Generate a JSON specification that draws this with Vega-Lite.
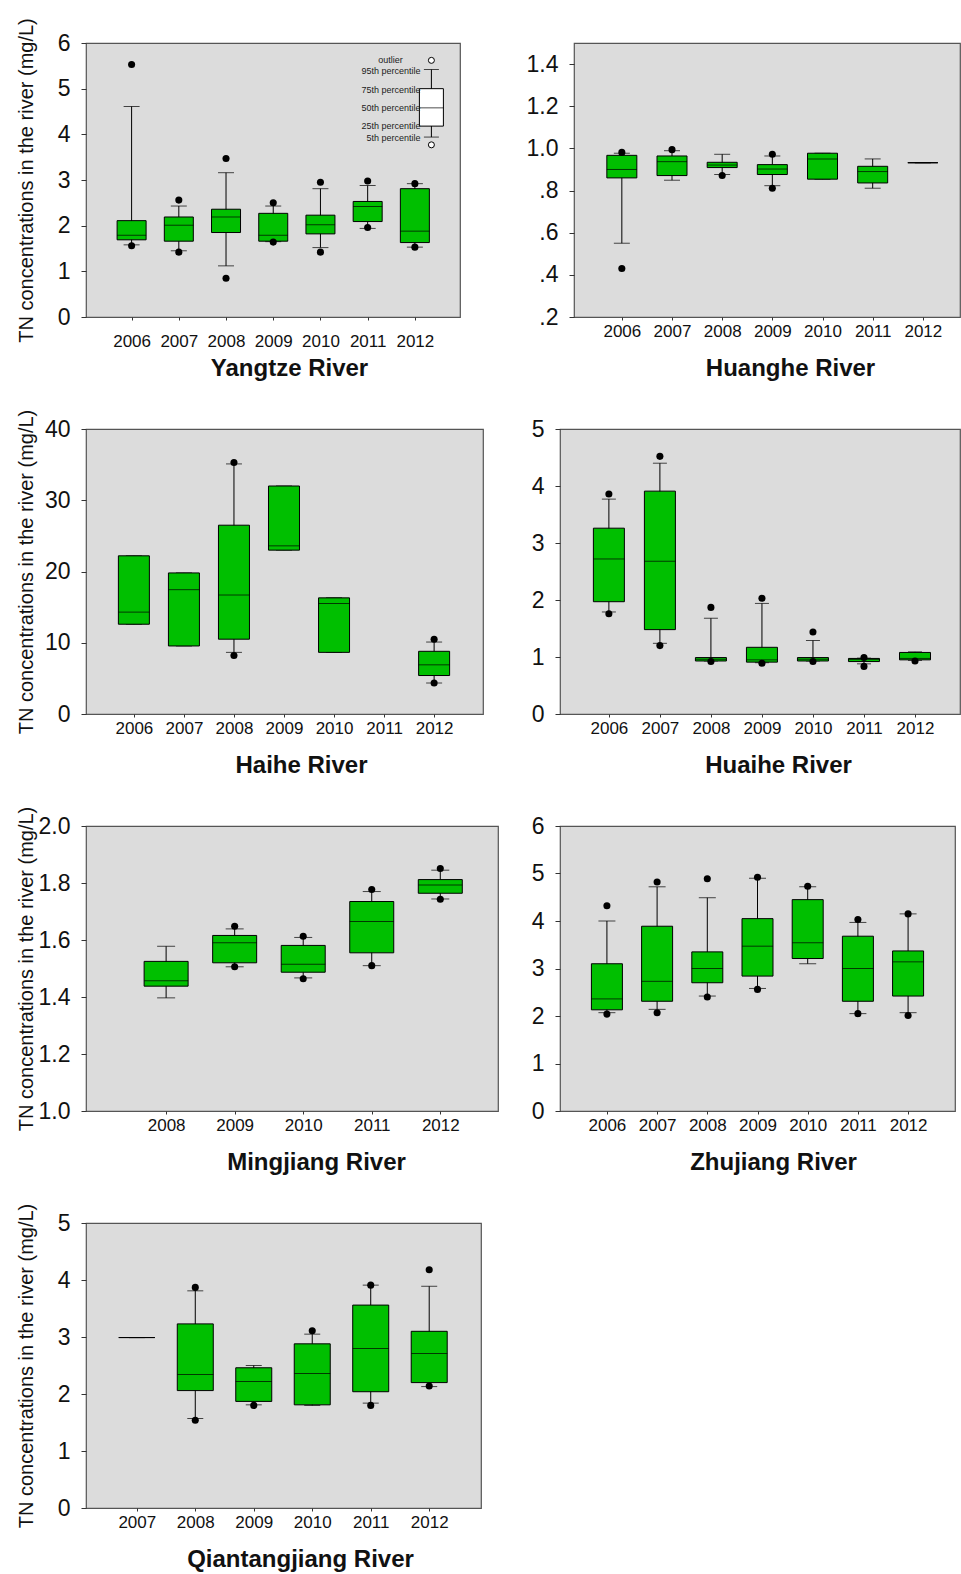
{
  "$schema": "https://vega.github.io/schema/vega-lite/v6.json",
  "background": "white",
  "padding": {"left": 15, "top": 17, "right": 0, "bottom": 0},
  "datasets": {
    "boxes": [
      {"river": "Yangtze", "year": 2006, "p5": 1.58, "q1": 1.69, "median": 1.79, "q3": 2.11, "p95": 4.61},
      {"river": "Yangtze", "year": 2007, "p5": 1.45, "q1": 1.66, "median": 2.01, "q3": 2.19, "p95": 2.43},
      {"river": "Yangtze", "year": 2008, "p5": 1.12, "q1": 1.85, "median": 2.19, "q3": 2.36, "p95": 3.16},
      {"river": "Yangtze", "year": 2009, "p5": 1.65, "q1": 1.66, "median": 1.79, "q3": 2.27, "p95": 2.43},
      {"river": "Yangtze", "year": 2010, "p5": 1.52, "q1": 1.82, "median": 2.02, "q3": 2.23, "p95": 2.81},
      {"river": "Yangtze", "year": 2011, "p5": 1.94, "q1": 2.09, "median": 2.42, "q3": 2.53, "p95": 2.88},
      {"river": "Yangtze", "year": 2012, "p5": 1.53, "q1": 1.63, "median": 1.88, "q3": 2.81, "p95": 2.92},
      {"river": "Huanghe", "year": 2006, "p5": 0.55, "q1": 0.86, "median": 0.90, "q3": 0.967, "p95": 0.977},
      {"river": "Huanghe", "year": 2007, "p5": 0.849, "q1": 0.871, "median": 0.937, "q3": 0.964, "p95": 0.989},
      {"river": "Huanghe", "year": 2008, "p5": 0.876, "q1": 0.909, "median": 0.921, "q3": 0.934, "p95": 0.972},
      {"river": "Huanghe", "year": 2009, "p5": 0.823, "q1": 0.876, "median": 0.902, "q3": 0.923, "p95": 0.964},
      {"river": "Huanghe", "year": 2010, "p5": 0.854, "q1": 0.854, "median": 0.950, "q3": 0.977, "p95": 0.977},
      {"river": "Huanghe", "year": 2011, "p5": 0.811, "q1": 0.836, "median": 0.890, "q3": 0.915, "p95": 0.950},
      {"river": "Huanghe", "year": 2012, "p5": 0.932, "q1": 0.932, "median": 0.932, "q3": 0.932, "p95": 0.932},
      {"river": "Haihe", "year": 2006, "p5": 12.6, "q1": 12.6, "median": 14.3, "q3": 22.2, "p95": 22.2},
      {"river": "Haihe", "year": 2007, "p5": 9.55, "q1": 9.55, "median": 17.45, "q3": 19.8, "p95": 19.8},
      {"river": "Haihe", "year": 2008, "p5": 8.65, "q1": 10.5, "median": 16.7, "q3": 26.5, "p95": 35.1},
      {"river": "Haihe", "year": 2009, "p5": 23.0, "q1": 23.0, "median": 23.6, "q3": 32.0, "p95": 32.0},
      {"river": "Haihe", "year": 2010, "p5": 8.65, "q1": 8.65, "median": 15.5, "q3": 16.3, "p95": 16.3},
      {"river": "Haihe", "year": 2012, "p5": 4.35, "q1": 5.4, "median": 6.9, "q3": 8.8, "p95": 10.1},
      {"river": "Huaihe", "year": 2006, "p5": 1.79, "q1": 1.97, "median": 2.72, "q3": 3.26, "p95": 3.77},
      {"river": "Huaihe", "year": 2007, "p5": 1.24, "q1": 1.48, "median": 2.68, "q3": 3.91, "p95": 4.40},
      {"river": "Huaihe", "year": 2008, "p5": 0.93, "q1": 0.93, "median": 0.96, "q3": 0.99, "p95": 1.68},
      {"river": "Huaihe", "year": 2009, "p5": 0.90, "q1": 0.91, "median": 0.95, "q3": 1.17, "p95": 1.94},
      {"river": "Huaihe", "year": 2010, "p5": 0.93, "q1": 0.93, "median": 0.96, "q3": 0.99, "p95": 1.29},
      {"river": "Huaihe", "year": 2011, "p5": 0.88, "q1": 0.92, "median": 0.958, "q3": 0.975, "p95": 0.98},
      {"river": "Huaihe", "year": 2012, "p5": 0.94, "q1": 0.95, "median": 0.975, "q3": 1.08, "p95": 1.09},
      {"river": "Mingjiang", "year": 2008, "p5": 1.397, "q1": 1.438, "median": 1.457, "q3": 1.525, "p95": 1.578},
      {"river": "Mingjiang", "year": 2009, "p5": 1.506, "q1": 1.520, "median": 1.590, "q3": 1.616, "p95": 1.639},
      {"river": "Mingjiang", "year": 2010, "p5": 1.467, "q1": 1.487, "median": 1.515, "q3": 1.581, "p95": 1.609},
      {"river": "Mingjiang", "year": 2011, "p5": 1.510, "q1": 1.555, "median": 1.665, "q3": 1.735, "p95": 1.770},
      {"river": "Mingjiang", "year": 2012, "p5": 1.744, "q1": 1.764, "median": 1.793, "q3": 1.812, "p95": 1.845},
      {"river": "Zhujiang", "year": 2006, "p5": 2.07, "q1": 2.13, "median": 2.36, "q3": 3.10, "p95": 4.00},
      {"river": "Zhujiang", "year": 2007, "p5": 2.14, "q1": 2.31, "median": 2.73, "q3": 3.89, "p95": 4.72},
      {"river": "Zhujiang", "year": 2008, "p5": 2.42, "q1": 2.70, "median": 3.00, "q3": 3.35, "p95": 4.49},
      {"river": "Zhujiang", "year": 2009, "p5": 2.58, "q1": 2.84, "median": 3.47, "q3": 4.05, "p95": 4.90},
      {"river": "Zhujiang", "year": 2010, "p5": 3.10, "q1": 3.21, "median": 3.54, "q3": 4.45, "p95": 4.72},
      {"river": "Zhujiang", "year": 2011, "p5": 2.05, "q1": 2.31, "median": 3.00, "q3": 3.68, "p95": 3.97},
      {"river": "Zhujiang", "year": 2012, "p5": 2.07, "q1": 2.42, "median": 3.14, "q3": 3.37, "p95": 4.15},
      {"river": "Qiantangjiang", "year": 2007, "p5": 2.99, "q1": 2.99, "median": 2.99, "q3": 2.99, "p95": 2.99},
      {"river": "Qiantangjiang", "year": 2008, "p5": 1.57, "q1": 2.06, "median": 2.34, "q3": 3.23, "p95": 3.81},
      {"river": "Qiantangjiang", "year": 2009, "p5": 1.81, "q1": 1.87, "median": 2.22, "q3": 2.46, "p95": 2.50},
      {"river": "Qiantangjiang", "year": 2010, "p5": 1.80, "q1": 1.81, "median": 2.36, "q3": 2.88, "p95": 3.05},
      {"river": "Qiantangjiang", "year": 2011, "p5": 1.84, "q1": 2.04, "median": 2.80, "q3": 3.56, "p95": 3.91},
      {"river": "Qiantangjiang", "year": 2012, "p5": 2.13, "q1": 2.20, "median": 2.71, "q3": 3.10, "p95": 3.89}
    ],
    "outliers": [
      {"river": "Yangtze", "year": 2006, "value": 5.53}, {"river": "Yangtze", "year": 2006, "value": 1.56},
      {"river": "Yangtze", "year": 2007, "value": 2.56}, {"river": "Yangtze", "year": 2007, "value": 1.42},
      {"river": "Yangtze", "year": 2008, "value": 3.47}, {"river": "Yangtze", "year": 2008, "value": 0.85},
      {"river": "Yangtze", "year": 2009, "value": 2.50}, {"river": "Yangtze", "year": 2009, "value": 1.64},
      {"river": "Yangtze", "year": 2010, "value": 2.95}, {"river": "Yangtze", "year": 2010, "value": 1.42},
      {"river": "Yangtze", "year": 2011, "value": 2.98}, {"river": "Yangtze", "year": 2011, "value": 1.96},
      {"river": "Yangtze", "year": 2012, "value": 2.92}, {"river": "Yangtze", "year": 2012, "value": 1.53},
      {"river": "Huanghe", "year": 2006, "value": 0.981}, {"river": "Huanghe", "year": 2006, "value": 0.43},
      {"river": "Huanghe", "year": 2007, "value": 0.994},
      {"river": "Huanghe", "year": 2008, "value": 0.871},
      {"river": "Huanghe", "year": 2009, "value": 0.972}, {"river": "Huanghe", "year": 2009, "value": 0.811},
      {"river": "Haihe", "year": 2008, "value": 35.3}, {"river": "Haihe", "year": 2008, "value": 8.2},
      {"river": "Haihe", "year": 2012, "value": 10.5}, {"river": "Haihe", "year": 2012, "value": 4.35},
      {"river": "Huaihe", "year": 2006, "value": 3.86}, {"river": "Huaihe", "year": 2006, "value": 1.76},
      {"river": "Huaihe", "year": 2007, "value": 4.52}, {"river": "Huaihe", "year": 2007, "value": 1.20},
      {"river": "Huaihe", "year": 2008, "value": 1.87}, {"river": "Huaihe", "year": 2008, "value": 0.92},
      {"river": "Huaihe", "year": 2009, "value": 2.03}, {"river": "Huaihe", "year": 2009, "value": 0.89},
      {"river": "Huaihe", "year": 2010, "value": 1.44}, {"river": "Huaihe", "year": 2010, "value": 0.92},
      {"river": "Huaihe", "year": 2011, "value": 0.99}, {"river": "Huaihe", "year": 2011, "value": 0.835},
      {"river": "Huaihe", "year": 2012, "value": 0.93},
      {"river": "Mingjiang", "year": 2009, "value": 1.648}, {"river": "Mingjiang", "year": 2009, "value": 1.506},
      {"river": "Mingjiang", "year": 2010, "value": 1.613}, {"river": "Mingjiang", "year": 2010, "value": 1.464},
      {"river": "Mingjiang", "year": 2011, "value": 1.777}, {"river": "Mingjiang", "year": 2011, "value": 1.510},
      {"river": "Mingjiang", "year": 2012, "value": 1.851}, {"river": "Mingjiang", "year": 2012, "value": 1.743},
      {"river": "Zhujiang", "year": 2006, "value": 4.32}, {"river": "Zhujiang", "year": 2006, "value": 2.04},
      {"river": "Zhujiang", "year": 2007, "value": 4.82}, {"river": "Zhujiang", "year": 2007, "value": 2.07},
      {"river": "Zhujiang", "year": 2008, "value": 4.89}, {"river": "Zhujiang", "year": 2008, "value": 2.40},
      {"river": "Zhujiang", "year": 2009, "value": 4.92}, {"river": "Zhujiang", "year": 2009, "value": 2.56},
      {"river": "Zhujiang", "year": 2010, "value": 4.73},
      {"river": "Zhujiang", "year": 2011, "value": 4.03}, {"river": "Zhujiang", "year": 2011, "value": 2.05},
      {"river": "Zhujiang", "year": 2012, "value": 4.15}, {"river": "Zhujiang", "year": 2012, "value": 2.01},
      {"river": "Qiantangjiang", "year": 2008, "value": 3.87}, {"river": "Qiantangjiang", "year": 2008, "value": 1.54},
      {"river": "Qiantangjiang", "year": 2009, "value": 1.80},
      {"river": "Qiantangjiang", "year": 2010, "value": 3.11},
      {"river": "Qiantangjiang", "year": 2011, "value": 3.91}, {"river": "Qiantangjiang", "year": 2011, "value": 1.80},
      {"river": "Qiantangjiang", "year": 2012, "value": 4.18}, {"river": "Qiantangjiang", "year": 2012, "value": 2.14}
    ],
    "legendBox": [{"p5": 3.94, "q1": 4.18, "median": 4.58, "q3": 5.0, "p95": 5.42}],
    "legendOutliers": [{"value": 5.62}, {"value": 3.77}],
    "legendLabels": [
      {"label": "95th percentile", "value": 5.39},
      {"label": "75th percentile", "value": 4.98},
      {"label": "50th percentile", "value": 4.58},
      {"label": "25th percentile", "value": 4.18},
      {"label": "5th percentile", "value": 3.93}
    ],
    "legendOutlierLabel": [{"label": "outlier", "value": 5.62}]
  },
  "config": {
    "font": "Liberation Sans",
    "view": {"fill": "#dcdcdc", "stroke": "#555555", "strokeWidth": 1.2},
    "axis": {"grid": false, "domain": false, "tickColor": "#333333", "labelColor": "#111111", "titleColor": "#111111", "labelFont": "Liberation Sans", "titleFont": "Liberation Sans", "labelOverlap": false, "labelFlush": false},
    "axisX": {"tickSize": 3, "labelFontSize": 17, "labelPadding": 3, "titleFontSize": 24, "titleFontWeight": "bold", "titlePadding": 17},
    "axisY": {"tickSize": 5, "labelFontSize": 23, "labelPadding": 11, "titleFontSize": 20, "titleFontWeight": "normal"}
  },
  "columns": 1,
  "spacing": 27,
  "concat": [
    {
      "bounds": "flush",
      "spacing": 114,
      "hconcat": [
        {
          "width": 374, "height": 274,
          "layer": [
            {
              "encoding": {"x": {"field": "year", "type": "quantitative", "title": "Yangtze River", "scale": {"domain": [2005.14, 2012.85], "nice": false, "zero": false}, "axis": {"values": [2006, 2007, 2008, 2009, 2010, 2011, 2012], "format": "d", "labelPadding": 13, "titlePadding": 7, "titleX": 203}}},
              "layer": [
                {"data": {"name": "boxes"}, "transform": [{"filter": "datum.river === 'Yangtze'"}], "mark": {"type": "rule", "color": "#000000", "strokeWidth": 1},
                 "encoding": {"y": {"field": "p5", "type": "quantitative", "title": "TN concentrations in the river (mg/L)", "scale": {"domain": [0, 6], "nice": false, "zero": false}, "axis": {"values": [0, 1, 2, 3, 4, 5, 6], "format": "d", "minExtent": 29, "maxExtent": 29, "titlePadding": 21}}, "y2": {"field": "p95"}}},
                {"data": {"name": "boxes"}, "transform": [{"filter": "datum.river === 'Yangtze'"}], "mark": {"type": "tick", "orient": "horizontal", "size": 16, "thickness": 1, "color": "#000000"},
                 "encoding": {"y": {"field": "p5", "type": "quantitative", "title": "TN concentrations in the river (mg/L)"}}},
                {"data": {"name": "boxes"}, "transform": [{"filter": "datum.river === 'Yangtze'"}], "mark": {"type": "tick", "orient": "horizontal", "size": 16, "thickness": 1, "color": "#000000"},
                 "encoding": {"y": {"field": "p95", "type": "quantitative", "title": "TN concentrations in the river (mg/L)"}}},
                {"data": {"name": "boxes"}, "transform": [{"filter": "datum.river === 'Yangtze'"}], "mark": {"type": "bar", "size": 29, "fill": "#00bf00", "stroke": "#000000", "strokeWidth": 1},
                 "encoding": {"y": {"field": "q1", "type": "quantitative", "title": "TN concentrations in the river (mg/L)"}, "y2": {"field": "q3"}}},
                {"data": {"name": "boxes"}, "transform": [{"filter": "datum.river === 'Yangtze'"}], "mark": {"type": "tick", "orient": "horizontal", "size": 29, "thickness": 1, "color": "#000000"},
                 "encoding": {"y": {"field": "median", "type": "quantitative", "title": "TN concentrations in the river (mg/L)"}}},
                {"data": {"name": "outliers"}, "transform": [{"filter": "datum.river === 'Yangtze'"}], "mark": {"type": "point", "shape": "circle", "filled": true, "size": 50, "color": "#000000", "opacity": 1},
                 "encoding": {"y": {"field": "value", "type": "quantitative", "title": "TN concentrations in the river (mg/L)"}}}
              ]
            },
            {"data": {"name": "legendBox"}, "mark": {"type": "rule", "color": "#000000", "strokeWidth": 1},
             "encoding": {"x": {"datum": 2012.35, "type": "quantitative", "title": "Yangtze River"}, "y": {"field": "p5", "type": "quantitative", "title": "TN concentrations in the river (mg/L)"}, "y2": {"field": "p95"}}},
            {"data": {"name": "legendBox"}, "mark": {"type": "tick", "orient": "horizontal", "size": 15, "thickness": 1, "color": "#000000"},
             "encoding": {"x": {"datum": 2012.35, "type": "quantitative", "title": "Yangtze River"}, "y": {"field": "p5", "type": "quantitative", "title": "TN concentrations in the river (mg/L)"}}},
            {"data": {"name": "legendBox"}, "mark": {"type": "tick", "orient": "horizontal", "size": 15, "thickness": 1, "color": "#000000"},
             "encoding": {"x": {"datum": 2012.35, "type": "quantitative", "title": "Yangtze River"}, "y": {"field": "p95", "type": "quantitative", "title": "TN concentrations in the river (mg/L)"}}},
            {"data": {"name": "legendBox"}, "mark": {"type": "bar", "size": 24, "fill": "#ffffff", "stroke": "#000000", "strokeWidth": 1},
             "encoding": {"x": {"datum": 2012.35, "type": "quantitative", "title": "Yangtze River"}, "y": {"field": "q1", "type": "quantitative", "title": "TN concentrations in the river (mg/L)"}, "y2": {"field": "q3"}}},
            {"data": {"name": "legendBox"}, "mark": {"type": "tick", "orient": "horizontal", "size": 24, "thickness": 1, "color": "#000000"},
             "encoding": {"x": {"datum": 2012.35, "type": "quantitative", "title": "Yangtze River"}, "y": {"field": "median", "type": "quantitative", "title": "TN concentrations in the river (mg/L)"}}},
            {"data": {"name": "legendOutliers"}, "mark": {"type": "point", "shape": "circle", "filled": true, "size": 36, "fill": "#ffffff", "stroke": "#000000", "strokeWidth": 1, "opacity": 1},
             "encoding": {"x": {"datum": 2012.35, "type": "quantitative", "title": "Yangtze River"}, "y": {"field": "value", "type": "quantitative", "title": "TN concentrations in the river (mg/L)"}}},
            {"data": {"name": "legendLabels"}, "mark": {"type": "text", "align": "right", "baseline": "middle", "fontSize": 9, "color": "#222222"},
             "encoding": {"x": {"datum": 2012.12, "type": "quantitative", "title": "Yangtze River"}, "y": {"field": "value", "type": "quantitative", "title": "TN concentrations in the river (mg/L)"}, "text": {"field": "label"}}},
            {"data": {"name": "legendOutlierLabel"}, "mark": {"type": "text", "align": "center", "baseline": "middle", "fontSize": 9, "color": "#222222"},
             "encoding": {"x": {"datum": 2011.485, "type": "quantitative", "title": "Yangtze River"}, "y": {"field": "value", "type": "quantitative", "title": "TN concentrations in the river (mg/L)"}, "text": {"field": "label"}}}
          ]
        },
        {
          "width": 386, "height": 274,
          "encoding": {"x": {"field": "year", "type": "quantitative", "title": "Huanghe River", "scale": {"domain": [2005.146, 2012.641], "nice": false, "zero": false}, "axis": {"values": [2006, 2007, 2008, 2009, 2010, 2011, 2012], "format": "d", "titleX": 216}}},
          "layer": [
            {"data": {"name": "boxes"}, "transform": [{"filter": "datum.river === 'Huanghe'"}], "mark": {"type": "rule", "color": "#000000", "strokeWidth": 1},
             "encoding": {"y": {"field": "p5", "type": "quantitative", "title": null, "scale": {"domain": [0.2, 1.5], "nice": false, "zero": false}, "axis": {"values": [0.2, 0.4, 0.6, 0.8, 1.0, 1.2, 1.4], "labelExpr": "datum.value < 0.99 ? replace(format(datum.value, '.1f'), '0.', '.') : format(datum.value, '.1f')"}}, "y2": {"field": "p95"}}},
            {"data": {"name": "boxes"}, "transform": [{"filter": "datum.river === 'Huanghe'"}], "mark": {"type": "tick", "orient": "horizontal", "size": 16, "thickness": 1, "color": "#000000"},
             "encoding": {"y": {"field": "p5", "type": "quantitative", "title": null}}},
            {"data": {"name": "boxes"}, "transform": [{"filter": "datum.river === 'Huanghe'"}], "mark": {"type": "tick", "orient": "horizontal", "size": 16, "thickness": 1, "color": "#000000"},
             "encoding": {"y": {"field": "p95", "type": "quantitative", "title": null}}},
            {"data": {"name": "boxes"}, "transform": [{"filter": "datum.river === 'Huanghe'"}], "mark": {"type": "bar", "size": 30, "fill": "#00bf00", "stroke": "#000000", "strokeWidth": 1},
             "encoding": {"y": {"field": "q1", "type": "quantitative", "title": null}, "y2": {"field": "q3"}}},
            {"data": {"name": "boxes"}, "transform": [{"filter": "datum.river === 'Huanghe'"}], "mark": {"type": "tick", "orient": "horizontal", "size": 30, "thickness": 1, "color": "#000000"},
             "encoding": {"y": {"field": "median", "type": "quantitative", "title": null}}},
            {"data": {"name": "outliers"}, "transform": [{"filter": "datum.river === 'Huanghe'"}], "mark": {"type": "point", "shape": "circle", "filled": true, "size": 50, "color": "#000000", "opacity": 1},
             "encoding": {"y": {"field": "value", "type": "quantitative", "title": null}}}
          ]
        }
      ]
    },
    {
      "bounds": "flush",
      "spacing": 77,
      "hconcat": [
        {
          "width": 397, "height": 285,
          "encoding": {"x": {"field": "year", "type": "quantitative", "title": "Haihe River", "scale": {"domain": [2005.143, 2012.877], "nice": false, "zero": false}, "axis": {"values": [2006, 2007, 2008, 2009, 2010, 2011, 2012], "format": "d", "titleX": 215}}},
          "layer": [
            {"data": {"name": "boxes"}, "transform": [{"filter": "datum.river === 'Haihe'"}], "mark": {"type": "rule", "color": "#000000", "strokeWidth": 1},
             "encoding": {"y": {"field": "p5", "type": "quantitative", "title": "TN concentrations in the river (mg/L)", "scale": {"domain": [0, 40], "nice": false, "zero": false}, "axis": {"values": [0, 5, 10, 15, 20, 25, 30, 35, 40], "format": "d", "minExtent": 42, "maxExtent": 42, "titlePadding": 8}}, "y2": {"field": "p95"}}},
            {"data": {"name": "boxes"}, "transform": [{"filter": "datum.river === 'Haihe'"}], "mark": {"type": "tick", "orient": "horizontal", "size": 16, "thickness": 1, "color": "#000000"},
             "encoding": {"y": {"field": "p5", "type": "quantitative", "title": "TN concentrations in the river (mg/L)"}}},
            {"data": {"name": "boxes"}, "transform": [{"filter": "datum.river === 'Haihe'"}], "mark": {"type": "tick", "orient": "horizontal", "size": 16, "thickness": 1, "color": "#000000"},
             "encoding": {"y": {"field": "p95", "type": "quantitative", "title": "TN concentrations in the river (mg/L)"}}},
            {"data": {"name": "boxes"}, "transform": [{"filter": "datum.river === 'Haihe'"}], "mark": {"type": "bar", "size": 31, "fill": "#00bf00", "stroke": "#000000", "strokeWidth": 1},
             "encoding": {"y": {"field": "q1", "type": "quantitative", "title": "TN concentrations in the river (mg/L)"}, "y2": {"field": "q3"}}},
            {"data": {"name": "boxes"}, "transform": [{"filter": "datum.river === 'Haihe'"}], "mark": {"type": "tick", "orient": "horizontal", "size": 31, "thickness": 1, "color": "#000000"},
             "encoding": {"y": {"field": "median", "type": "quantitative", "title": "TN concentrations in the river (mg/L)"}}},
            {"data": {"name": "outliers"}, "transform": [{"filter": "datum.river === 'Haihe'"}], "mark": {"type": "point", "shape": "circle", "filled": true, "size": 50, "color": "#000000", "opacity": 1},
             "encoding": {"y": {"field": "value", "type": "quantitative", "title": "TN concentrations in the river (mg/L)"}}}
          ]
        },
        {
          "width": 400, "height": 285,
          "encoding": {"x": {"field": "year", "type": "quantitative", "title": "Huaihe River", "scale": {"domain": [2005.14, 2012.784], "nice": false, "zero": false}, "axis": {"values": [2006, 2007, 2008, 2009, 2010, 2011, 2012], "format": "d", "titleX": 218}}},
          "layer": [
            {"data": {"name": "boxes"}, "transform": [{"filter": "datum.river === 'Huaihe'"}], "mark": {"type": "rule", "color": "#000000", "strokeWidth": 1},
             "encoding": {"y": {"field": "p5", "type": "quantitative", "title": null, "scale": {"domain": [0, 5], "nice": false, "zero": false}, "axis": {"values": [0, 1, 2, 3, 4, 5], "format": "d"}}, "y2": {"field": "p95"}}},
            {"data": {"name": "boxes"}, "transform": [{"filter": "datum.river === 'Huaihe'"}], "mark": {"type": "tick", "orient": "horizontal", "size": 14, "thickness": 1, "color": "#000000"},
             "encoding": {"y": {"field": "p5", "type": "quantitative", "title": null}}},
            {"data": {"name": "boxes"}, "transform": [{"filter": "datum.river === 'Huaihe'"}], "mark": {"type": "tick", "orient": "horizontal", "size": 14, "thickness": 1, "color": "#000000"},
             "encoding": {"y": {"field": "p95", "type": "quantitative", "title": null}}},
            {"data": {"name": "boxes"}, "transform": [{"filter": "datum.river === 'Huaihe'"}], "mark": {"type": "bar", "size": 31, "fill": "#00bf00", "stroke": "#000000", "strokeWidth": 1},
             "encoding": {"y": {"field": "q1", "type": "quantitative", "title": null}, "y2": {"field": "q3"}}},
            {"data": {"name": "boxes"}, "transform": [{"filter": "datum.river === 'Huaihe'"}], "mark": {"type": "tick", "orient": "horizontal", "size": 31, "thickness": 1, "color": "#000000"},
             "encoding": {"y": {"field": "median", "type": "quantitative", "title": null}}},
            {"data": {"name": "outliers"}, "transform": [{"filter": "datum.river === 'Huaihe'"}], "mark": {"type": "point", "shape": "circle", "filled": true, "size": 50, "color": "#000000", "opacity": 1},
             "encoding": {"y": {"field": "value", "type": "quantitative", "title": null}}}
          ]
        }
      ]
    },
    {
      "bounds": "flush",
      "spacing": 62,
      "hconcat": [
        {
          "width": 412, "height": 285,
          "encoding": {"x": {"field": "year", "type": "quantitative", "title": "Mingjiang River", "scale": {"domain": [2006.904, 2012.769], "nice": false, "zero": false}, "axis": {"values": [2008, 2009, 2010, 2011, 2012], "format": "d", "titleX": 230}}},
          "layer": [
            {"data": {"name": "boxes"}, "transform": [{"filter": "datum.river === 'Mingjiang'"}], "mark": {"type": "rule", "color": "#000000", "strokeWidth": 1},
             "encoding": {"y": {"field": "p5", "type": "quantitative", "title": "TN concentrations in the river (mg/L)", "scale": {"domain": [1.0, 2.0], "nice": false, "zero": false}, "axis": {"values": [1.0, 1.2, 1.4, 1.6, 1.8, 2.0], "format": ".1f", "minExtent": 48, "maxExtent": 48, "titlePadding": 2}}, "y2": {"field": "p95"}}},
            {"data": {"name": "boxes"}, "transform": [{"filter": "datum.river === 'Mingjiang'"}], "mark": {"type": "tick", "orient": "horizontal", "size": 18, "thickness": 1, "color": "#000000"},
             "encoding": {"y": {"field": "p5", "type": "quantitative", "title": "TN concentrations in the river (mg/L)"}}},
            {"data": {"name": "boxes"}, "transform": [{"filter": "datum.river === 'Mingjiang'"}], "mark": {"type": "tick", "orient": "horizontal", "size": 18, "thickness": 1, "color": "#000000"},
             "encoding": {"y": {"field": "p95", "type": "quantitative", "title": "TN concentrations in the river (mg/L)"}}},
            {"data": {"name": "boxes"}, "transform": [{"filter": "datum.river === 'Mingjiang'"}], "mark": {"type": "bar", "size": 44, "fill": "#00bf00", "stroke": "#000000", "strokeWidth": 1},
             "encoding": {"y": {"field": "q1", "type": "quantitative", "title": "TN concentrations in the river (mg/L)"}, "y2": {"field": "q3"}}},
            {"data": {"name": "boxes"}, "transform": [{"filter": "datum.river === 'Mingjiang'"}], "mark": {"type": "tick", "orient": "horizontal", "size": 44, "thickness": 1, "color": "#000000"},
             "encoding": {"y": {"field": "median", "type": "quantitative", "title": "TN concentrations in the river (mg/L)"}}},
            {"data": {"name": "outliers"}, "transform": [{"filter": "datum.river === 'Mingjiang'"}], "mark": {"type": "point", "shape": "circle", "filled": true, "size": 50, "color": "#000000", "opacity": 1},
             "encoding": {"y": {"field": "value", "type": "quantitative", "title": "TN concentrations in the river (mg/L)"}}}
          ]
        },
        {
          "width": 395, "height": 285,
          "encoding": {"x": {"field": "year", "type": "quantitative", "title": "Zhujiang River", "scale": {"domain": [2005.165, 2012.835], "nice": false, "zero": false}, "axis": {"values": [2006, 2007, 2008, 2009, 2010, 2011, 2012], "format": "d", "titleX": 213}}},
          "layer": [
            {"data": {"name": "boxes"}, "transform": [{"filter": "datum.river === 'Zhujiang'"}], "mark": {"type": "rule", "color": "#000000", "strokeWidth": 1},
             "encoding": {"y": {"field": "p5", "type": "quantitative", "title": null, "scale": {"domain": [0, 6], "nice": false, "zero": false}, "axis": {"values": [0, 1, 2, 3, 4, 5, 6], "format": "d"}}, "y2": {"field": "p95"}}},
            {"data": {"name": "boxes"}, "transform": [{"filter": "datum.river === 'Zhujiang'"}], "mark": {"type": "tick", "orient": "horizontal", "size": 17, "thickness": 1, "color": "#000000"},
             "encoding": {"y": {"field": "p5", "type": "quantitative", "title": null}}},
            {"data": {"name": "boxes"}, "transform": [{"filter": "datum.river === 'Zhujiang'"}], "mark": {"type": "tick", "orient": "horizontal", "size": 17, "thickness": 1, "color": "#000000"},
             "encoding": {"y": {"field": "p95", "type": "quantitative", "title": null}}},
            {"data": {"name": "boxes"}, "transform": [{"filter": "datum.river === 'Zhujiang'"}], "mark": {"type": "bar", "size": 31, "fill": "#00bf00", "stroke": "#000000", "strokeWidth": 1},
             "encoding": {"y": {"field": "q1", "type": "quantitative", "title": null}, "y2": {"field": "q3"}}},
            {"data": {"name": "boxes"}, "transform": [{"filter": "datum.river === 'Zhujiang'"}], "mark": {"type": "tick", "orient": "horizontal", "size": 31, "thickness": 1, "color": "#000000"},
             "encoding": {"y": {"field": "median", "type": "quantitative", "title": null}}},
            {"data": {"name": "outliers"}, "transform": [{"filter": "datum.river === 'Zhujiang'"}], "mark": {"type": "point", "shape": "circle", "filled": true, "size": 50, "color": "#000000", "opacity": 1},
             "encoding": {"y": {"field": "value", "type": "quantitative", "title": null}}}
          ]
        }
      ]
    },
    {
      "bounds": "flush",
      "hconcat": [
        {
          "width": 395, "height": 285,
          "encoding": {"x": {"field": "year", "type": "quantitative", "title": "Qiantangjiang River", "scale": {"domain": [2006.217, 2012.8], "nice": false, "zero": false}, "axis": {"values": [2007, 2008, 2009, 2010, 2011, 2012], "format": "d", "titleX": 214}}},
          "layer": [
            {"data": {"name": "boxes"}, "transform": [{"filter": "datum.river === 'Qiantangjiang'"}], "mark": {"type": "rule", "color": "#000000", "strokeWidth": 1},
             "encoding": {"y": {"field": "p5", "type": "quantitative", "title": "TN concentrations in the river (mg/L)", "scale": {"domain": [0, 5], "nice": false, "zero": false}, "axis": {"values": [0, 1, 2, 3, 4, 5], "format": "d", "minExtent": 29, "maxExtent": 29, "titlePadding": 21}}, "y2": {"field": "p95"}}},
            {"data": {"name": "boxes"}, "transform": [{"filter": "datum.river === 'Qiantangjiang'"}], "mark": {"type": "tick", "orient": "horizontal", "size": 16, "thickness": 1, "color": "#000000"},
             "encoding": {"y": {"field": "p5", "type": "quantitative", "title": "TN concentrations in the river (mg/L)"}}},
            {"data": {"name": "boxes"}, "transform": [{"filter": "datum.river === 'Qiantangjiang'"}], "mark": {"type": "tick", "orient": "horizontal", "size": 16, "thickness": 1, "color": "#000000"},
             "encoding": {"y": {"field": "p95", "type": "quantitative", "title": "TN concentrations in the river (mg/L)"}}},
            {"data": {"name": "boxes"}, "transform": [{"filter": "datum.river === 'Qiantangjiang'"}], "mark": {"type": "bar", "size": 36, "fill": "#00bf00", "stroke": "#000000", "strokeWidth": 1},
             "encoding": {"y": {"field": "q1", "type": "quantitative", "title": "TN concentrations in the river (mg/L)"}, "y2": {"field": "q3"}}},
            {"data": {"name": "boxes"}, "transform": [{"filter": "datum.river === 'Qiantangjiang'"}], "mark": {"type": "tick", "orient": "horizontal", "size": 36, "thickness": 1, "color": "#000000"},
             "encoding": {"y": {"field": "median", "type": "quantitative", "title": "TN concentrations in the river (mg/L)"}}},
            {"data": {"name": "outliers"}, "transform": [{"filter": "datum.river === 'Qiantangjiang'"}], "mark": {"type": "point", "shape": "circle", "filled": true, "size": 50, "color": "#000000", "opacity": 1},
             "encoding": {"y": {"field": "value", "type": "quantitative", "title": "TN concentrations in the river (mg/L)"}}}
          ]
        }
      ]
    }
  ]
}
